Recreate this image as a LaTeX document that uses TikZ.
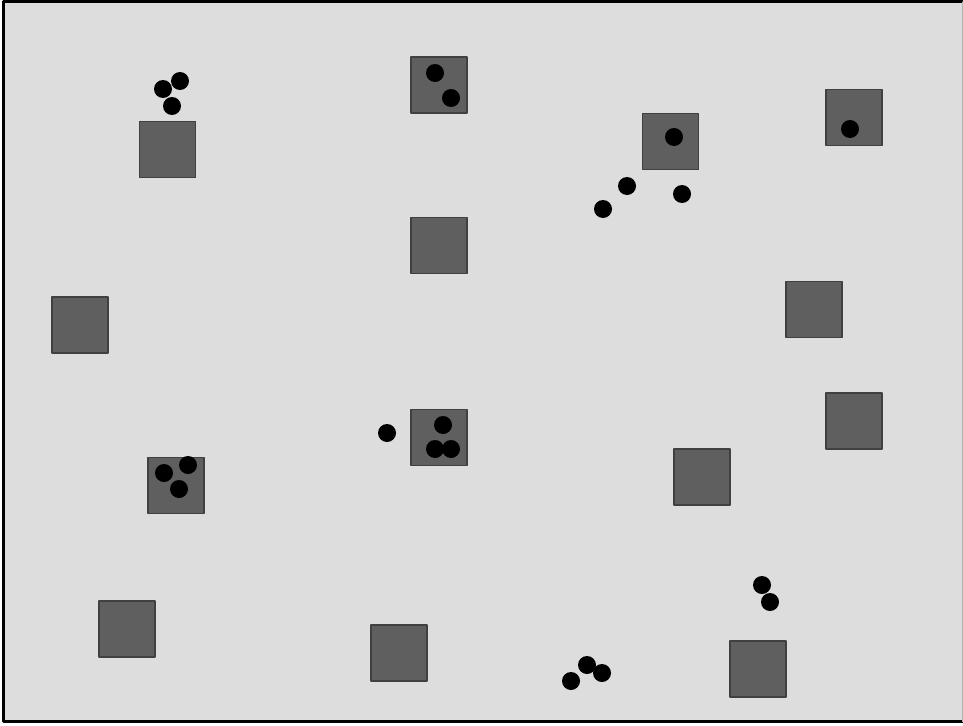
\documentclass[tikz,border=0pt]{standalone}
\definecolor{floorgray}{HTML}{DDDDDD}
\definecolor{boxfill}{HTML}{5F5F5F}
\definecolor{boxedge}{HTML}{404040}
\tikzset{
  boxnode/.style={draw=boxedge,line width=1.4pt,fill=boxfill,minimum size=56pt,inner sep=0pt},
  ballnode/.style={circle,fill=black,minimum size=18pt,inner sep=0pt}
}
\begin{document}
\begin{tikzpicture}[x=1pt,y=-1pt,line cap=round,line join=round]
  \useasboundingbox (0,0) rectangle (963,725);
  \begin{scope}
   \clip (0,0) rectangle (963,725);
   \fill[floorgray] (3.5,2) rectangle (966,721.5);
   \draw[line width=3pt,line cap=butt] (966,2) -- (3.5,2) -- (3.5,721.5) -- (966,721.5);
   \draw[gray!60,line width=1pt] (962.5,2) -- (962.5,721.5);
  \end{scope}
  % boxes
  \foreach \x/\y [count=\i] in {167.5/149.5,439/85,670.5/141.5,854/117.5,439/245.5,
    80/325,814/309.5,439/437.5,854/421,176/485.5,702/477,127/629,399/653,758/669}
   \node[boxnode] (box\i) at (\x,\y) {};
  % balls
  \foreach \x/\y [count=\i] in {163/89,180/81,172/106,435/73,451/98,674/137,627/186,
    603/209,682/194,850/129,387/433,443/425,435/449,451/449,164/473,188/465,179/489,
    762/585,770/602,587/665,571/681,602/673}
   \node[ballnode] (ball\i) at (\x,\y) {};
\end{tikzpicture}
\end{document}
